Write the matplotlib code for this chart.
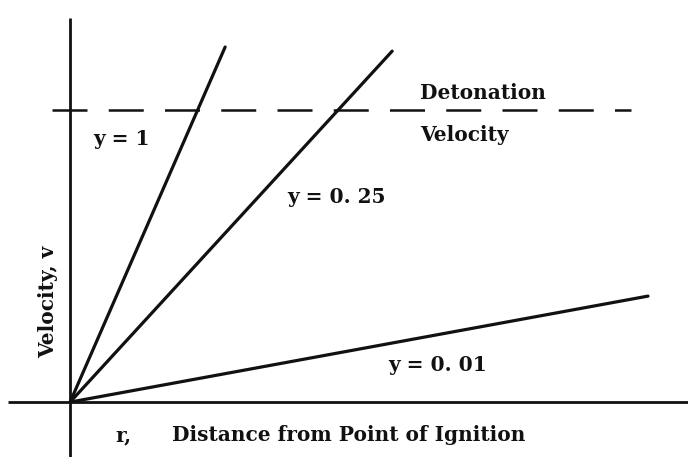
import matplotlib
matplotlib.use("Agg")
import matplotlib.pyplot as plt

# Flame velocity v against distance r from the point of ignition,
# in units where the detonation velocity is 1.
line_labels = ["y = 1", "y = 0.25", "y = 0.01"]
r_end = [0.531, 1.103, 1.979]
v_end = [1.216, 1.202, 0.363]
detonation_velocity = 1.0

W, H, DPI = 688, 457, 100
fig = plt.figure(figsize=(W / DPI, H / DPI), dpi=DPI)
ax = fig.add_axes([0, 0, 1, 1])
ax.set_xlim(-0.240, 2.116)
ax.set_ylim(-0.188, 1.377)
ax.axis("off")

ink = "#111111"
fs = 14.5
font = dict(family="DejaVu Serif", weight="bold", color=ink, fontsize=fs)

# coordinate axes crossing at the ignition point
ax.plot([-0.212, 2.116], [0, 0], color=ink, lw=2.0, solid_capstyle="butt")
ax.plot([0, 0], [-0.188, 1.315], color=ink, lw=2.0, solid_capstyle="butt")

# velocity growth lines from the origin
for r, v in zip(r_end, v_end):
    ax.plot([0, r], [0, v], color=ink, lw=2.3, solid_capstyle="round")

# detonation velocity level
ax.plot([-0.062, 1.92], [detonation_velocity, detonation_velocity],
        color=ink, lw=1.8, dashes=(14, 8.5), solid_capstyle="butt")

ax.text(1.197, 1.058, "Detonation", ha="left", va="center", **font)
ax.text(1.197, 0.914, "Velocity", ha="left", va="center", **font)

label_pos = [(0.078, 0.900), (0.745, 0.702), (1.090, 0.127)]
for (x, y), txt in zip(label_pos, line_labels):
    ax.text(x, y, txt.replace("0.", "0. "), ha="left", va="center", **font)

ax.text(0.154, -0.113, "r,", ha="left", va="center", **font)
ax.text(0.349, -0.113, "Distance from Point of Ignition", ha="left",
        va="center", **font)
ax.text(-0.075, 0.344, "Velocity, v", rotation=90, ha="center",
        va="center", **font)

fig.savefig("out.png", dpi=DPI, facecolor="white")
